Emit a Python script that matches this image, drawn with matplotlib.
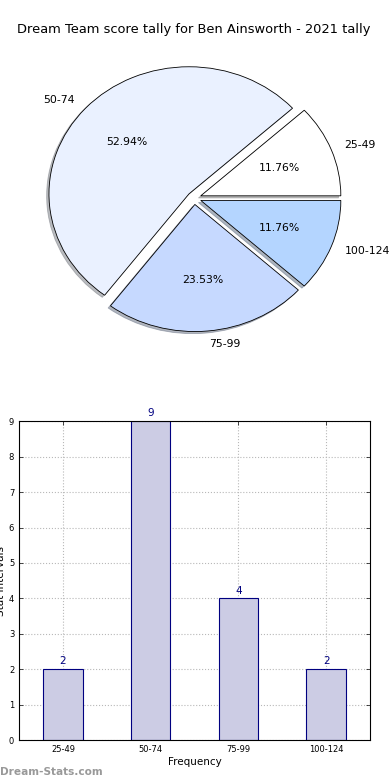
import matplotlib
matplotlib.use("Agg")
import matplotlib.pyplot as plt

categories = ["25-49", "50-74", "75-99", "100-124"]
counts = [2, 9, 4, 2]
pie_colors = ["#ffffff", "#eaf1ff", "#c6d9ff", "#b4d5ff"]
title = "Dream Team score tally for Ben Ainsworth - 2021 tally"

fig = plt.figure(figsize=(3.9, 7.8), dpi=100)

# pie on top
ax1 = fig.add_axes([0.067, 0.5505, 0.862, 0.391])
wedges, texts, autotexts = ax1.pie(
    counts, labels=categories, colors=pie_colors, autopct="%1.2f%%",
    explode=[0.05] * len(counts), startangle=0,
    shadow={"ox": -0.012, "oy": -0.012, "shade": 0.5},
    wedgeprops=dict(edgecolor="black", linewidth=0.6),
    textprops=dict(fontsize=7.8))
ax1.set_aspect("auto")
ax1.set_xlim(-1.2, 1.2)
ax1.set_ylim(-1.2, 1.2)
fig.text(0.496, 0.962, title, ha="center", va="center", fontsize=9.4)

# bar chart below
ax2 = fig.add_axes([0.049, 0.051, 0.9, 0.409])
x = range(len(categories))
bars = ax2.bar(x, counts, width=0.45, color="#ccccE4", edgecolor="#000080",
               linewidth=0.8, zorder=2)
for xi, c in zip(x, counts):
    ax2.text(xi, c + 0.08, str(c), ha="center", va="bottom", fontsize=7.5,
             color="#000080")
ax2.set_xlim(-0.5, 3.5)
ax2.set_ylim(0, 9)
ax2.set_yticks(range(0, 10))
ax2.set_xticks(list(x))
ax2.set_xticklabels(categories)
ax2.tick_params(axis="both", labelsize=6, direction="in", top=True, right=True,
                length=3, width=0.5)
ax2.grid(True, linestyle=":", color="#b8b8b8", linewidth=0.8, zorder=0)
ax2.set_axisbelow(True)
ax2.set_xlabel("Frequency", fontsize=7.5, labelpad=2)
ax2.set_ylabel("Stat Intervals", fontsize=7.5, labelpad=2)

fig.text(0.0, 0.004, "Dream-Stats.com", fontsize=7.6, color="#999999",
         fontweight="bold", ha="left", va="bottom")

fig.savefig("out.png", dpi=100)
